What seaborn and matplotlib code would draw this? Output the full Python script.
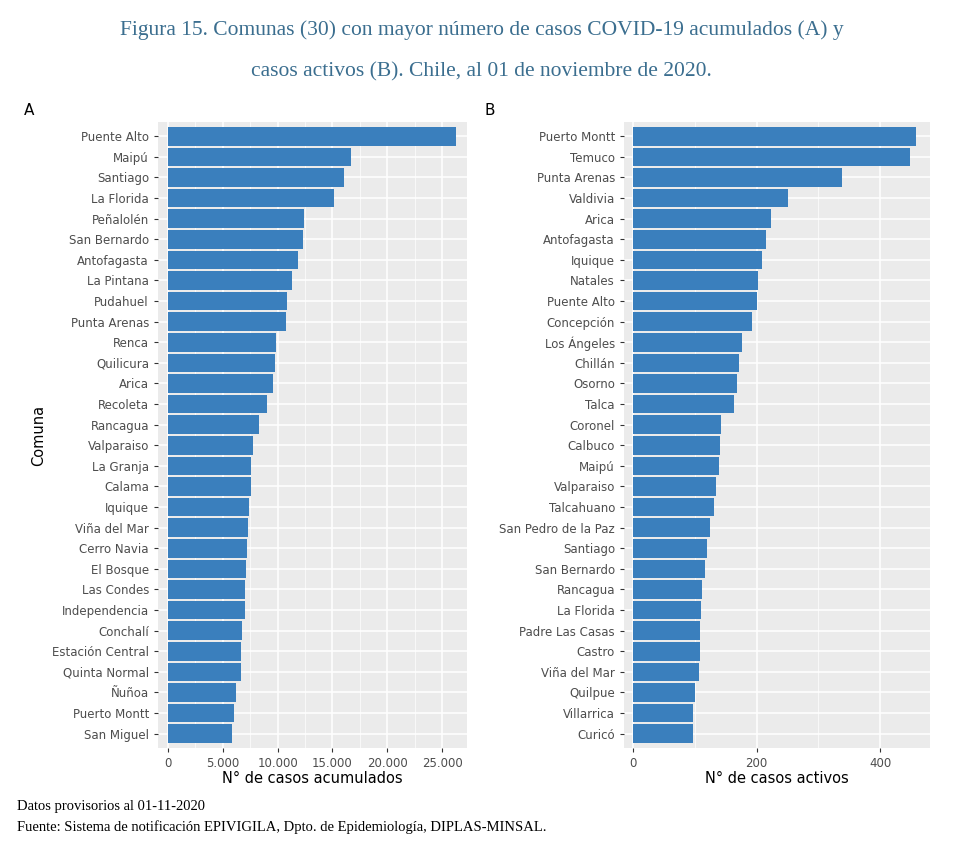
import matplotlib
matplotlib.use("Agg")
import matplotlib.pyplot as plt
from matplotlib.ticker import FuncFormatter, MultipleLocator
import seaborn as sns
import pandas as pd

comunas_a = ["Puente Alto", "Maipú", "Santiago", "La Florida", "Peñalolén", "San Bernardo",
             "Antofagasta", "La Pintana", "Pudahuel", "Punta Arenas", "Renca", "Quilicura",
             "Arica", "Recoleta", "Rancagua", "Valparaiso", "La Granja", "Calama", "Iquique",
             "Viña del Mar", "Cerro Navia", "El Bosque", "Las Condes", "Independencia",
             "Conchalí", "Estación Central", "Quinta Normal", "Ñuñoa", "Puerto Montt", "San Miguel"]
casos_a = [26300, 16700, 16100, 15100, 12400, 12300, 11900, 11300, 10900, 10800, 9850, 9800,
           9600, 9000, 8300, 7800, 7600, 7550, 7400, 7300, 7200, 7100, 7000, 7000, 6750,
           6700, 6650, 6200, 6000, 5850]

comunas_b = ["Puerto Montt", "Temuco", "Punta Arenas", "Valdivia", "Arica", "Antofagasta",
             "Iquique", "Natales", "Puente Alto", "Concepción", "Los Ángeles", "Chillán",
             "Osorno", "Talca", "Coronel", "Calbuco", "Maipú", "Valparaiso", "Talcahuano",
             "San Pedro de la Paz", "Santiago", "San Bernardo", "Rancagua", "La Florida",
             "Padre Las Casas", "Castro", "Viña del Mar", "Quilpue", "Villarrica", "Curicó"]
casos_b = [458, 448, 338, 251, 223, 215, 209, 202, 200, 193, 176, 172, 168, 163, 142, 141,
           139, 134, 131, 125, 120, 116, 112, 110, 108, 108, 107, 100, 97, 97]

BAR = "#3a7fbd"

plt.rcParams["font.family"] = ["DejaVu Sans"]
fig = plt.figure(figsize=(9.63, 8.52), dpi=100)


def style_axis(ax, step, minor, xlo, xhi, fmt):
    ax.set_facecolor("#EBEBEB")
    for s in ax.spines.values():
        s.set_visible(False)
    ax.xaxis.set_major_locator(MultipleLocator(step))
    ax.xaxis.set_minor_locator(MultipleLocator(minor))
    ax.xaxis.set_major_formatter(FuncFormatter(fmt))
    ax.grid(True, which="major", axis="both", color="white", linewidth=1.1)
    ax.grid(True, which="minor", axis="x", color="white", linewidth=0.5)
    ax.set_axisbelow(True)
    ax.set_xlim(xlo, xhi)
    ax.set_ylim(29.7, -0.7)
    ax.tick_params(axis="both", colors="#333333", labelsize=8.5, length=3, labelcolor="#4d4d4d")
    ax.tick_params(axis="x", which="minor", length=0)


def dot_fmt(v, _):
    return f"{int(v):,}".replace(",", ".")


ax_a = fig.add_axes([0.164, 0.122, 0.321, 0.735])
sns.barplot(data=pd.DataFrame({"c": comunas_a, "v": casos_a}), x="v", y="c",
            color=BAR, saturation=1, width=0.9, ax=ax_a)
style_axis(ax_a, 5000, 2500, -912, 27280, dot_fmt)
ax_a.set_xlabel("N° de casos acumulados", fontsize=10.5, labelpad=1)
ax_a.set_ylabel("Comuna", fontsize=10.5)

ax_b = fig.add_axes([0.648, 0.122, 0.318, 0.735])
sns.barplot(data=pd.DataFrame({"c": comunas_b, "v": casos_b}), x="v", y="c",
            color=BAR, saturation=1, width=0.9, ax=ax_b)
style_axis(ax_b, 200, 100, -14.6, 481, lambda v, _: f"{int(v)}")
ax_b.set_xlabel("N° de casos activos", fontsize=10.5, labelpad=1)
ax_b.set_ylabel("")

fig.text(0.025, 0.865, "A", fontsize=11)
fig.text(0.503, 0.865, "B", fontsize=11)

title_col = "#3b6e8f"
fig.text(0.5, 0.965, "Figura 15. Comunas (30) con mayor número de casos COVID-19 acumulados (A) y",
         ha="center", va="center", fontsize=15.5, color=title_col, family="Liberation Serif")
fig.text(0.5, 0.916, "casos activos (B). Chile, al 01 de noviembre de 2020.",
         ha="center", va="center", fontsize=15.5, color=title_col, family="Liberation Serif")

fig.text(0.018, 0.049, "Datos provisorios al 01-11-2020", fontsize=10.5, family="Liberation Serif")
fig.text(0.018, 0.025, "Fuente: Sistema de notificación EPIVIGILA, Dpto. de Epidemiología, DIPLAS-MINSAL.",
         fontsize=10.5, family="Liberation Serif")

fig.savefig("out.png", dpi=100)
